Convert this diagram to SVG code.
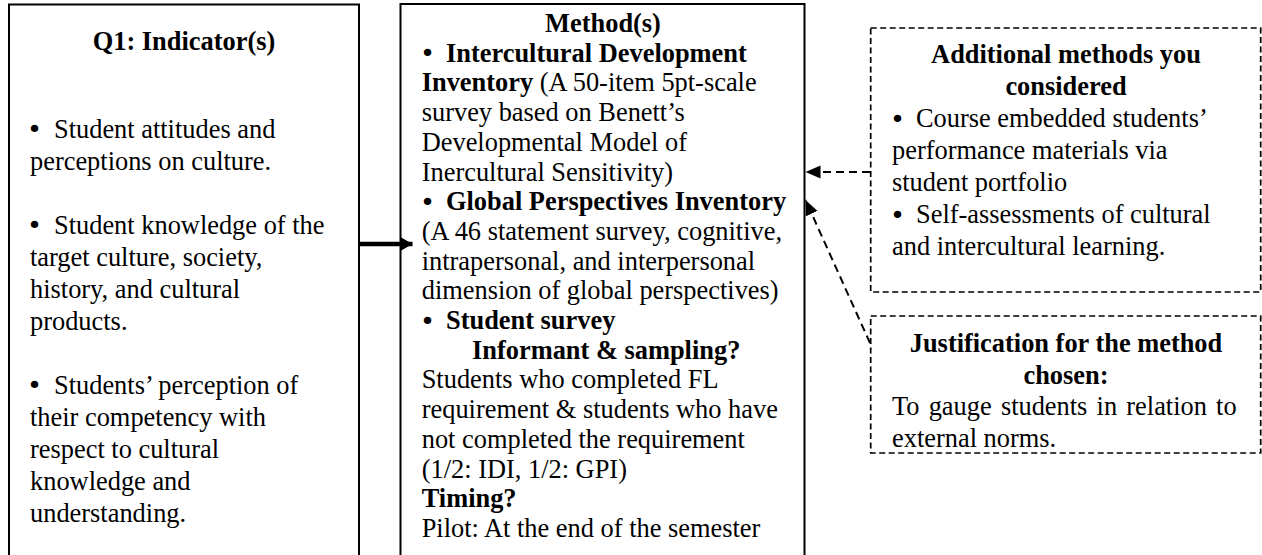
<svg xmlns="http://www.w3.org/2000/svg" width="1262" height="555" viewBox="0 0 1262 555">
<defs>
<style>
text{font-family:"Liberation Serif","Times New Roman",serif;font-size:26.4px;fill:#000}
.b{font-weight:bold}
.bl{font-family:"DejaVu Sans",sans-serif;font-size:25.5px}
.box{fill:#fff;stroke:#000;stroke-width:2}
.dbox{fill:#fff;stroke:#000;stroke-width:1.7;stroke-dasharray:6 3.5}
.conn{fill:none;stroke:#000}
</style>
<marker id="solidHead" markerUnits="userSpaceOnUse" markerWidth="14" markerHeight="16" refX="13" refY="8" orient="auto">
<path d="M0,0.5 L13,8 L0,15.5 Z" fill="#000"/>
</marker>
<marker id="dashHead" markerUnits="userSpaceOnUse" markerWidth="16" markerHeight="14" refX="15" refY="7" orient="auto">
<path d="M0,0.5 L15,7 L0,13.5 Z" fill="#000"/>
</marker>
</defs>
<rect x="0" y="0" width="1262" height="555" fill="#fff"/>

<g id="indicators">
<rect class="box" x="9" y="4.5" width="350" height="570"/>
<text class="b" x="184" y="50" text-anchor="middle">Q1: Indicator(s)</text>
<text class="bl" x="27" y="138">•</text><text x="54" y="137.5">Student attitudes and</text>
<text x="30" y="169.5">perceptions on culture.</text>
<text class="bl" x="27" y="234">•</text><text x="54" y="233.5">Student knowledge of the</text>
<text x="30" y="265.5">target culture, society,</text>
<text x="30" y="297.5">history, and cultural</text>
<text x="30" y="329.5">products.</text>
<text class="bl" x="27" y="394">•</text><text x="54" y="393.5">Students’ perception of</text>
<text x="30" y="425.5">their competency with</text>
<text x="30" y="457.5">respect to cultural</text>
<text x="30" y="489.5">knowledge and</text>
<text x="30" y="521.5">understanding.</text>
</g>

<g id="methods">
<rect class="box" x="400.5" y="4" width="404" height="570"/>
<text class="b" x="603" y="32" text-anchor="middle">Method(s)</text>
<text class="bl" x="420" y="62.2">•</text><text class="b" x="446" y="61.7">Intercultural Development</text>
<text x="421.7" y="91.4"><tspan class="b">Inventory</tspan> (A 50-item 5pt-scale</text>
<text x="421.7" y="121.1">survey based on Benett’s</text>
<text x="421.7" y="150.8">Developmental Model of</text>
<text x="421.7" y="180.5">Inercultural Sensitivity)</text>
<text class="bl" x="420" y="210.7">•</text><text class="b" x="446" y="210.2">Global Perspectives Inventory</text>
<text x="421.7" y="239.9">(A 46 statement survey, cognitive,</text>
<text x="421.7" y="269.6">intrapersonal, and interpersonal</text>
<text x="421.7" y="299.3">dimension of global perspectives)</text>
<text class="bl" x="420" y="329.5">•</text><text class="b" x="446" y="329">Student survey</text>
<text class="b" x="472" y="358.7">Informant &amp; sampling?</text>
<text x="421.7" y="388.4">Students who completed FL</text>
<text x="421.7" y="418.1">requirement &amp; students who have</text>
<text x="421.7" y="447.8">not completed the requirement</text>
<text x="421.7" y="477.5">(1/2: IDI, 1/2: GPI)</text>
<text class="b" x="421.7" y="507.2">Timing?</text>
<text x="421.7" y="536.9">Pilot: At the end of the semester</text>
</g>

<g id="additional">
<rect class="dbox" x="870.7" y="28" width="390" height="264"/>
<text class="b" x="1066" y="63" text-anchor="middle">Additional methods you</text>
<text class="b" x="1066" y="95" text-anchor="middle">considered</text>
<text class="bl" x="890" y="127.5">•</text><text x="916" y="127">Course embedded students’</text>
<text x="892" y="159">performance materials via</text>
<text x="892" y="191">student portfolio</text>
<text class="bl" x="890" y="223.5">•</text><text x="916" y="223">Self-assessments of cultural</text>
<text x="892" y="255">and intercultural learning.</text>
</g>

<g id="justification">
<rect class="dbox" x="870.7" y="316" width="390" height="137"/>
<text class="b" x="1066" y="352" text-anchor="middle">Justification for the method</text>
<text class="b" x="1066" y="383.5" text-anchor="middle">chosen:</text>
<text x="892" y="415" word-spacing="2.6">To gauge students in relation to</text>
<text x="892" y="447">external norms.</text>
</g>

<g id="connectors">
<line class="conn" x1="359" y1="244" x2="412.5" y2="244" stroke-width="4.5" marker-end="url(#solidHead)"/>
<line class="conn" x1="870" y1="172" x2="805.5" y2="172" stroke-width="2" stroke-dasharray="8 5" marker-end="url(#dashHead)"/>
<line class="conn" x1="870" y1="343" x2="805.5" y2="200" stroke-width="2" stroke-dasharray="8 5" marker-end="url(#dashHead)"/>
</g>
</svg>
